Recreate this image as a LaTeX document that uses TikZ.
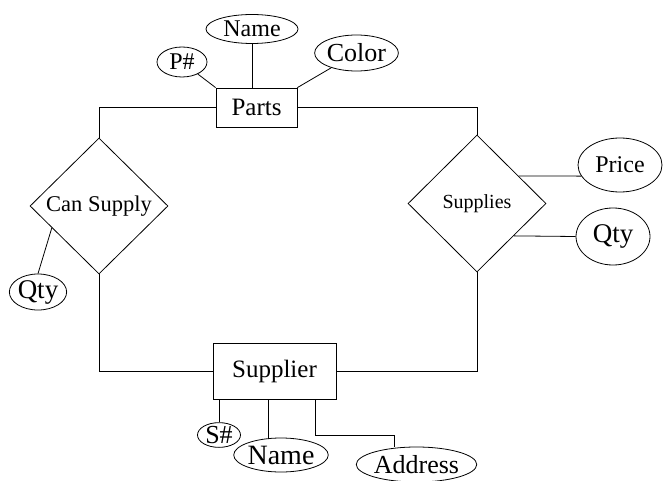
\documentclass[tikz,border=0pt]{standalone}
\usepackage{fontspec}
\setmainfont{Liberation Serif}
\usepackage{tikz}
\usetikzlibrary{positioning}
\usetikzlibrary{shapes.geometric, calc}

\begin{document}
\begin{tikzpicture}[x=1pt,y=1pt,line width=0.8pt,
    entity/.style={draw, rectangle, inner sep=0pt, font=\fontsize{25}{27}\selectfont},
    attr/.style={draw, ellipse, inner sep=0pt, font=\fontsize{24}{26}\selectfont},
    rel/.style={draw, diamond, inner sep=0pt, font=\fontsize{22.5}{24}\selectfont}]
    \useasboundingbox (0,0) rectangle (663,-481);

    % entities
    \node[entity, minimum width=81pt, minimum height=39pt] (parts) at (256.5,-107.5) {Parts};
    \node[entity, minimum width=123pt, minimum height=56pt] (supplier) at (274.5,-371) {Supplier};

    % relationships
    \node[rel, minimum width=138pt, minimum height=136pt] (cansup) at (99,-206) {Can Supply};
    \node[rel, minimum width=138pt, minimum height=137pt, font=\fontsize{20}{22}\selectfont] (supplies) at (477,-203.5) {Supplies};

    % attributes of Parts
    \node[attr, minimum width=50pt, minimum height=30pt] (pnum) at (182,-62) {P\#};
    \node[attr, minimum width=92pt, minimum height=29pt] (pname) at (252,-29) {Name};
    \node[attr, minimum width=77pt, minimum height=36pt, font=\fontsize{26}{28}\selectfont] (color) at (356.5,-53) {Color};

    % attributes of the relationships
    \node[attr, minimum width=57pt, minimum height=36pt, font=\fontsize{27}{29}\selectfont] (cqty) at (38,-292) {Qty};
    \node[attr, minimum width=84pt, minimum height=54pt] (price) at (620,-165) {Price};
    \node[attr, minimum width=74pt, minimum height=57pt, font=\fontsize{27}{29}\selectfont] (sqty) at (613,-236.5) {Qty};

    % attributes of Supplier
    \node[attr, minimum width=43pt, minimum height=24pt, font=\fontsize{26}{28}\selectfont] (snum) at (219,-435) {S\#};
    \node[attr, minimum width=76pt, minimum height=34pt, font=\fontsize{28}{30}\selectfont] (sname) at (281,-455) {Name};
    \node[attr, minimum width=97pt, minimum height=35pt, font=\fontsize{26}{28}\selectfont] (addr) at (416.5,-464.5) {Address};

    % relationship lines
    \draw (parts.west) -| (cansup.north);
    \draw (parts.east) -| (supplies.north);
    \draw (cansup.south) |- (supplier.west);
    \draw (supplies.south) |- (supplier.east);

    % attribute lines
    \draw (pnum) -- (parts.north west);
    \draw (pname.south) -- (pname.south |- parts.north);
    \draw (color) -- (parts.north east);
    \draw (cqty.north) -- ($(cansup.west)!0.32!(cansup.south)$);
    \draw (price.196) -- ($(supplies.north)!0.6!(supplies.east)$);
    \draw (sqty.west) -- ($(supplies.east)!0.47!(supplies.south)$);
    \draw (snum.north) -- (snum.north |- supplier.south);
    \draw ([xshift=-13pt]sname.north) -- ([xshift=-13pt]sname.north |- supplier.south);
    \draw ([xshift=41pt]supplier.south) |- ([xshift=-22pt,yshift=11pt]addr.north) -- ([xshift=-22pt]addr.north);
\end{tikzpicture}
\end{document}
